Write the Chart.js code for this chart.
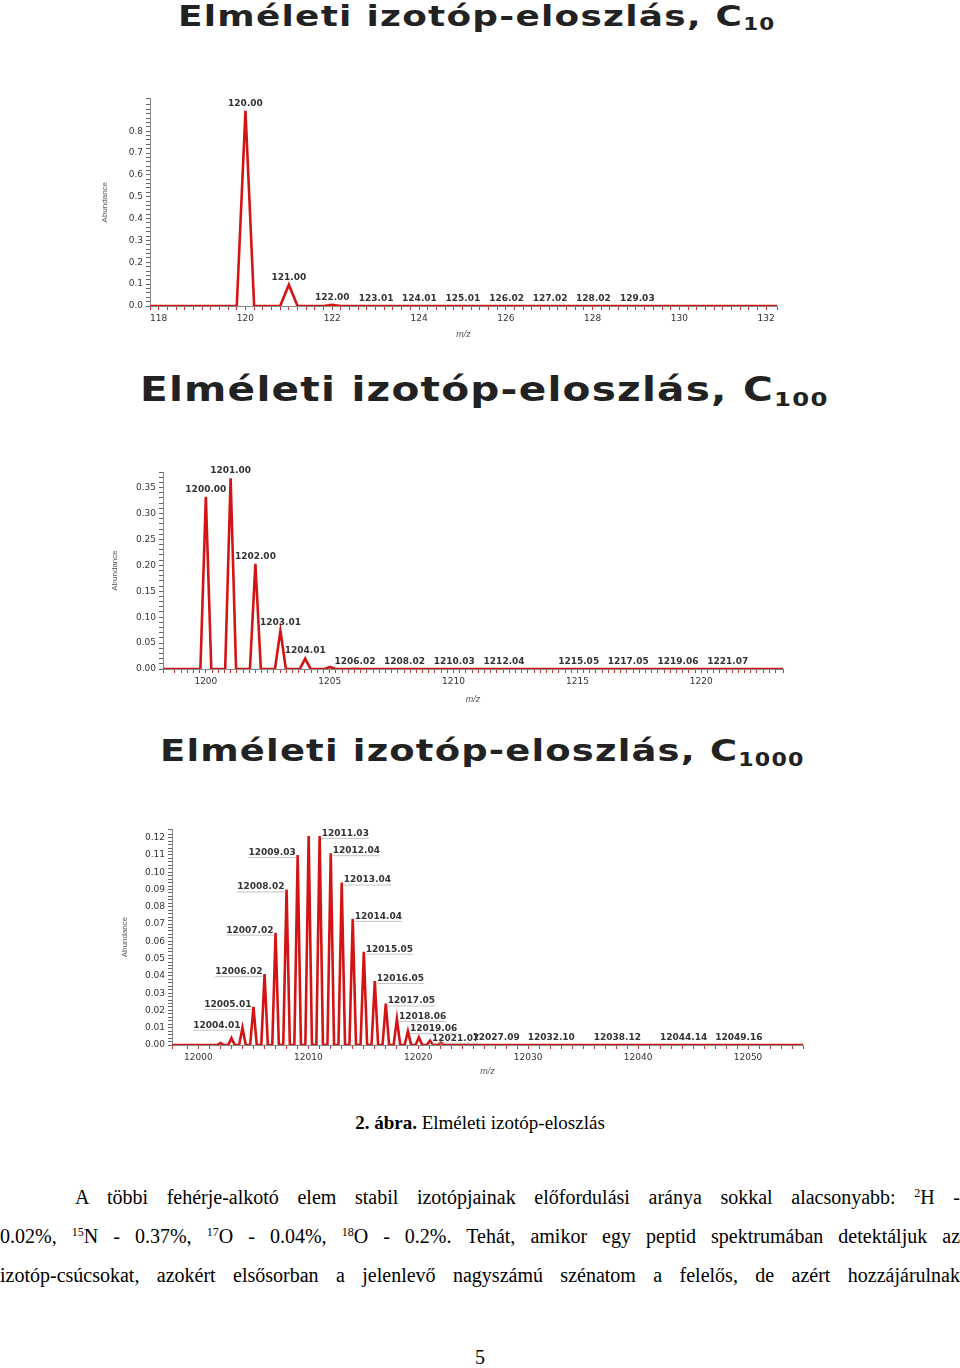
<!DOCTYPE html>
<html><head><meta charset="utf-8">
<script src="https://cdn.jsdelivr.net/npm/chart.js@4"></script>
<style>
body{margin:0;width:960px;height:1368px;position:relative;background:#fff;overflow:hidden}
.t{position:absolute;font-family:"DejaVu Sans";font-weight:bold;color:#222;white-space:nowrap;letter-spacing:1px}
.t sub{font-size:60%;vertical-align:-0.25em}
canvas{position:absolute}
.p{position:absolute;font-family:"Liberation Serif";font-size:20px;color:#000;white-space:nowrap}
.j{text-align:justify;text-align-last:justify}
sup{font-size:60%;vertical-align:0.6em;line-height:0}
</style></head><body>
<div class="t" style="left:178px;top:0px;font-size:28px;transform:scaleX(1.28);transform-origin:left">Elméleti izotóp-eloszlás, C<sub>10</sub></div>
<div class="t" style="left:140px;top:370px;font-size:33px;transform:scaleX(1.23);transform-origin:left">Elméleti izotóp-eloszlás, C<sub>100</sub></div>
<div class="t" style="left:160px;top:732px;font-size:31px;transform:scaleX(1.19);transform-origin:left">Elméleti izotóp-eloszlás, C<sub>1000</sub></div>
<canvas id="c1" style="left:100px;top:90px;width:700px;height:250px"></canvas>
<canvas id="c2" style="left:110px;top:455px;width:690px;height:250px"></canvas>
<canvas id="c3" style="left:120px;top:815px;width:700px;height:262px"></canvas>
<div class="p" style="left:0;width:960px;top:1112px;text-align:center;font-size:19px"><b>2. ábra.</b> Elméleti izotóp-eloszlás</div>
<div class="p j" style="left:75px;width:885px;top:1186px">A többi fehérje-alkotó elem stabil izotópjainak előfordulási aránya sokkal alacsonyabb: <sup>2</sup>H -</div>
<div class="p j" style="left:0;width:960px;top:1225px">0.02%, <sup>15</sup>N - 0.37%, <sup>17</sup>O - 0.04%, <sup>18</sup>O - 0.2%. Tehát, amikor egy peptid spektrumában detektáljuk az</div>
<div class="p j" style="left:0;width:960px;top:1264px">izotóp-csúcsokat, azokért elsősorban a jelenlevő nagyszámú szénatom a felelős, de azért hozzájárulnak</div>
<div class="p" style="left:0;width:960px;top:1346px;text-align:center">5</div>
<script>
// C10
const c10Mass = [120.00, 121.00, 122.00, 123.01, 124.01, 125.01, 126.02, 127.02, 128.02, 129.03];
const c10Abund = [0.893, 0.097, 0.005, 0.0003, 0, 0, 0, 0, 0, 0];
const c10Labels = ['120.00', '121.00', '122.00', '123.01', '124.01', '125.01', '126.02', '127.02', '128.02', '129.03'];
// C100
const c100Mass = [1200.00, 1201.00, 1202.00, 1203.01, 1204.01, 1205.01, 1206.02, 1208.02, 1210.03, 1212.04, 1215.05, 1217.05, 1219.06, 1221.07];
const c100Abund = [0.332, 0.368, 0.203, 0.074, 0.020, 0.004, 0.0005, 0, 0, 0, 0, 0, 0, 0];
const c100Labels = ['1200.00', '1201.00', '1202.00', '1203.01', '1204.01', '', '1206.02', '1208.02', '1210.03', '1212.04', '1215.05', '1217.05', '1219.06', '1221.07'];
// C1000
const c1000Mass = [12002.01, 12003.01, 12004.01, 12005.01, 12006.02, 12007.02, 12008.02, 12009.03, 12010.03, 12011.03, 12012.04, 12013.04, 12014.04, 12015.05, 12016.05, 12017.05, 12018.06, 12019.06, 12020.06, 12021.07, 12022.07, 12027.09, 12032.10, 12038.12, 12044.14, 12049.16];
const c1000Abund = [0.0012, 0.004, 0.010, 0.022, 0.041, 0.065, 0.090, 0.110, 0.121, 0.121, 0.111, 0.094, 0.073, 0.054, 0.037, 0.024, 0.015, 0.008, 0.0045, 0.0025, 0.0014, 0, 0, 0, 0, 0];
const c1000Labels = ['', '', '12004.01', '12005.01', '12006.02', '12007.02', '12008.02', '12009.03', '', '12011.03', '12012.04', '12013.04', '12014.04', '12015.05', '12016.05', '12017.05', '12018.06', '12019.06', '', '12021.07', '', '12027.09', '12032.10', '12038.12', '12044.14', '12049.16'];

const peakLabels = {
  id: 'peakLabels',
  afterDatasetsDraw(chart, args, o) {
    const {ctx, scales: {x, y}} = chart;
    const top = Math.max(...o.abund);
    const iTop = o.abund.indexOf(top);
    ctx.save();
    ctx.font = 'bold 9px "DejaVu Sans"';
    ctx.fillStyle = '#333';
    ctx.textBaseline = 'bottom';
    o.mass.forEach((m, i) => {
      if (!o.labels[i]) return;
      const px = x.getPixelForValue(m), py = y.getPixelForValue(o.abund[i]);
      const small = o.abund[i] < o.smallCut;
      if (!o.side || (small && o.abund[i] === 0) || i === iTop) {
        ctx.textAlign = 'center';
        ctx.fillText(o.labels[i], px, py - 3);
      } else {
        const left = i < iTop;
        const w = ctx.measureText(o.labels[i]).width;
        const x0 = left ? px - 2 - w : px + 2;
        ctx.textAlign = 'left';
        ctx.fillText(o.labels[i], x0, py + 2);
        ctx.strokeStyle = '#aaa'; ctx.lineWidth = 0.7;
        ctx.beginPath(); ctx.moveTo(x0, py + 2.5); ctx.lineTo(x0 + w, py + 2.5); ctx.stroke();
      }
    });
    ctx.restore();
  }
};

function makeChart(id, mass, abund, labels, c) {
  const pts = [];
  pts.push({x: c.xmin, y: 0});
  mass.forEach((m, i) => {
    pts.push({x: m - c.w, y: 0}, {x: m, y: abund[i]}, {x: m + c.w, y: 0});
  });
  pts.push({x: c.xmax, y: 0});
  const near = (v, s) => Math.abs(v / s - Math.round(v / s)) < 1e-6;
  new Chart(document.getElementById(id), {
    type: 'scatter',
    data: {datasets: [{data: pts, showLine: true, pointRadius: 0, borderColor: '#d41414', borderWidth: 2.6, tension: 0}]},
    plugins: [peakLabels],
    options: {
      responsive: false, animation: false, devicePixelRatio: 1,
      layout: {padding: {top: c.padTop, right: c.padRight, left: 0, bottom: 0}},
      plugins: {legend: {display: false}, tooltip: {enabled: false},
        peakLabels: {mass, abund, labels, side: c.side, smallCut: c.smallCut}},
      scales: {
        x: {type: 'linear', min: c.xmin, max: c.xmax,
          afterFit: s => { s.height = c.xh; },
          border: {color: '#888'},
          grid: {drawOnChartArea: false, tickLength: 4, color: '#c33'},
          ticks: {stepSize: c.xstep, autoSkip: false, maxRotation: 0, color: '#333', font: {size: 9, family: 'DejaVu Sans'},
            callback: v => near(v, c.xlab) ? String(Math.round(v)) : ''},
          title: {display: true, text: 'm/z', color: '#555', font: {size: 9, style: 'italic'}, padding: 0}},
        y: {min: 0, max: c.ymax,
          afterFit: s => { s.width = c.yw; },
          border: {color: '#888'},
          grid: {drawOnChartArea: false, tickLength: 4, color: '#666'},
          ticks: {stepSize: c.ystep, autoSkip: false, color: '#333', font: {size: 9, family: 'DejaVu Sans'},
            callback: v => (near(v, c.ylab) && v <= c.ytop + 1e-9) ? v.toFixed(c.ydec) : ''},
          title: {display: true, text: 'Abundance', color: '#555', font: {size: 8}, padding: 0}}
      }
    }
  });
}

makeChart('c1', c10Mass, c10Abund, c10Labels,
  {xmin: 117.8, xmax: 132.25, w: 0.2, xstep: 0.2, xlab: 2, ymax: 0.95, ystep: 0.02, ylab: 0.1, ytop: 0.8, ydec: 1,
   yw: 50, xh: 34, padTop: 8, padRight: 23, side: false, smallCut: 0.2});
makeChart('c2', c100Mass, c100Abund, c100Labels,
  {xmin: 1198.27, xmax: 1223.3, w: 0.22, xstep: 0.25, xlab: 5, ymax: 0.38, ystep: 0.01, ylab: 0.05, ytop: 0.35, ydec: 2,
   yw: 53, xh: 36, padTop: 17, padRight: 17, side: false, smallCut: 0.01});
makeChart('c3', c1000Mass, c1000Abund, c1000Labels,
  {xmin: 11997.6, xmax: 12055, w: 0.3, xstep: 1, xlab: 10, ymax: 0.125, ystep: 0.002, ylab: 0.01, ytop: 0.12, ydec: 2,
   yw: 52, xh: 32, padTop: 14, padRight: 17, side: true, smallCut: 0.003});
</script>
</body></html>
